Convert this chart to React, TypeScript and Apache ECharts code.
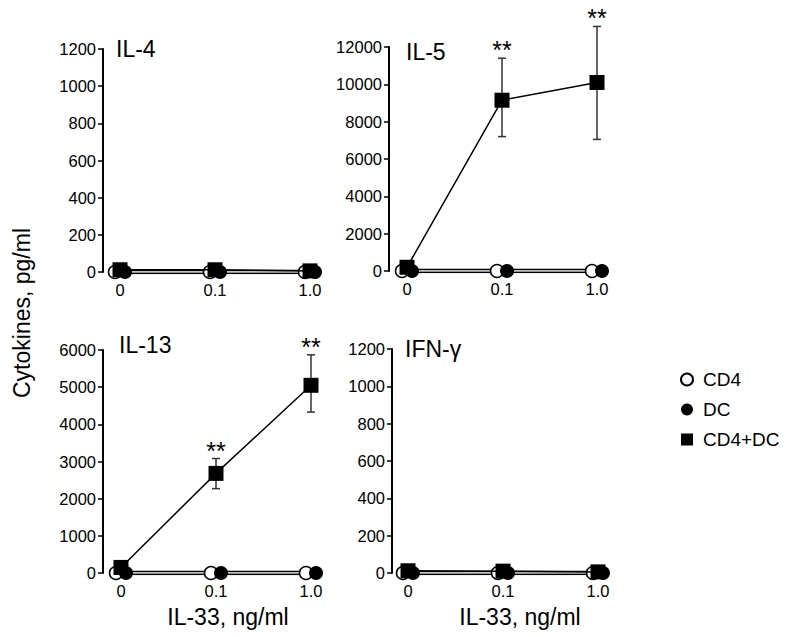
import React, { useEffect, useRef } from 'react';
import * as echarts from 'echarts';

// ---- data ----
const doseLabels = ['0', '0.1', '1.0'];
const panelNames = ['IL-4', 'IL-5', 'IL-13', 'IFN-γ'];
const yMaxes = [1200, 12000, 6000, 1200];
const yIntervals = [200, 2000, 1000, 200];

const cd4Values = [
  [0, 0, 0],
  [0, 0, 0],
  [0, 0, 0],
  [0, 0, 0],
];
const dcValues = [
  [0, 0, 0],
  [0, 0, 0],
  [0, 0, 0],
  [0, 0, 0],
];
const cd4dcValues = [
  [12, 12, 6],
  [200, 9150, 10100],
  [150, 2680, 5050],
  [12, 10, 6],
];
const errLow: (number | null)[][] = [
  [null, null, null],
  [null, 7200, 7050],
  [null, 2270, 4330],
  [null, null, null],
];
const errHigh: (number | null)[][] = [
  [null, null, null],
  [null, 11400, 13100],
  [null, 3080, 5870],
  [null, null, null],
];
const sigMarks = [
  ['', '', ''],
  ['', '**', '**'],
  ['', '**', '**'],
  ['', '', ''],
];
const legendNames = ['CD4', 'DC', 'CD4+DC'];
const yTitle = 'Cytokines, pg/ml';
const xTitle = 'IL-33, ng/ml';

// ---- layout ----
const FONT = 'Liberation Sans, Arial, Helvetica, sans-serif';
const gridLefts = [120, 407, 121, 408];
const gridTops = [49, 47, 350, 349];
const gridHeights = [223, 224, 223, 224];
const gridWidth = 190;
const yOffsets = [17, 18, 18, 16];
const titlePos = [
  [116, 49],
  [406, 52],
  [119, 345],
  [405, 349],
];

export default function App() {
  const ref = useRef<HTMLDivElement>(null);

  useEffect(() => {
    if (!ref.current) return;
    const chart = echarts.init(ref.current, undefined, { renderer: 'svg' });

    const grid: any[] = [];
    const xAxis: any[] = [];
    const yAxis: any[] = [];
    const series: any[] = [];
    const graphic: any[] = [];

    panelNames.forEach((name, i) => {
      grid.push({
        left: gridLefts[i],
        top: gridTops[i],
        width: gridWidth,
        height: gridHeights[i],
        containLabel: false,
      });
      xAxis.push({
        type: 'category',
        gridIndex: i,
        data: doseLabels,
        boundaryGap: false,
        axisLine: { show: false },
        axisTick: { show: false },
        axisLabel: { fontSize: 16.5, color: '#000', margin: 9, fontFamily: FONT },
        splitLine: { show: false },
      });
      yAxis.push({
        type: 'value',
        gridIndex: i,
        min: 0,
        max: yMaxes[i],
        interval: yIntervals[i],
        offset: yOffsets[i],
        axisLine: { show: true, lineStyle: { color: '#000', width: 2 } },
        axisTick: { show: true, length: 5, lineStyle: { color: '#000', width: 1.5 } },
        axisLabel: {
          fontSize: 16.5,
          color: '#000',
          margin: 7,
          fontFamily: FONT,
          formatter: (v: number) => String(v),
        },
        splitLine: { show: false },
      });

      // baseline double line (CD4 & DC connecting lines)
      series.push({
        name: 'CD4 line',
        type: 'line',
        xAxisIndex: i,
        yAxisIndex: i,
        data: cd4Values[i],
        symbol: 'none',
        lineStyle: { color: '#000', width: 4.5 },
        z: 1,
        silent: true,
      });
      series.push({
        name: 'DC line',
        type: 'line',
        xAxisIndex: i,
        yAxisIndex: i,
        data: dcValues[i],
        symbol: 'none',
        lineStyle: { color: '#fff', width: 1.5 },
        z: 2,
        silent: true,
      });
      series.push({
        name: 'CD4',
        type: 'scatter',
        xAxisIndex: i,
        yAxisIndex: i,
        data: cd4Values[i],
        symbol: 'circle',
        symbolSize: 13,
        symbolOffset: [-5, 0],
        itemStyle: { color: '#fff', borderColor: '#000', borderWidth: 1.5, opacity: 1 },
        z: 3,
      });
      series.push({
        name: 'DC',
        type: 'scatter',
        xAxisIndex: i,
        yAxisIndex: i,
        data: dcValues[i],
        symbol: 'circle',
        symbolSize: 14,
        symbolOffset: [5, 0],
        itemStyle: { color: '#000', opacity: 1 },
        z: 4,
      });

      const errData: any[] = [];
      const errSig: string[] = [];
      doseLabels.forEach((_, k) => {
        const lo = errLow[i][k];
        const hi = errHigh[i][k];
        if (lo != null && hi != null) {
          errData.push([k, lo, hi]);
          errSig.push(sigMarks[i][k]);
        }
      });
      series.push({
        name: 'err',
        type: 'custom',
        xAxisIndex: i,
        yAxisIndex: i,
        data: errData,
        z: 4,
        clip: false,
        silent: true,
        renderItem: (params: any, api: any) => {
          const x = api.value(0);
          const lo = api.coord([x, api.value(1)]);
          const hi = api.coord([x, api.value(2)]);
          const cx = lo[0];
          const cap = 4;
          const st = { stroke: '#333', lineWidth: 1.5 };
          return {
            type: 'group',
            children: [
              { type: 'line', shape: { x1: cx, y1: lo[1], x2: cx, y2: hi[1] }, style: st },
              { type: 'line', shape: { x1: cx - cap, y1: hi[1], x2: cx + cap, y2: hi[1] }, style: st },
              { type: 'line', shape: { x1: cx - cap, y1: lo[1], x2: cx + cap, y2: lo[1] }, style: st },
              {
                type: 'text',
                style: {
                  text: errSig[params.dataIndex],
                  x: cx,
                  y: hi[1] - 8,
                  align: 'center',
                  verticalAlign: 'middle',
                  fontSize: 25,
                  fontFamily: FONT,
                  fill: '#000',
                },
              },
            ],
          };
        },
      });

      series.push({
        name: 'CD4+DC',
        type: 'line',
        xAxisIndex: i,
        yAxisIndex: i,
        data: cd4dcValues[i],
        symbol: 'rect',
        symbolSize: 15,
        itemStyle: { color: '#000' },
        lineStyle: { color: '#000', width: 1.5 },
        z: 5,
      });

      graphic.push({
        type: 'text',
        left: titlePos[i][0],
        top: titlePos[i][1] - 12,
        style: { text: name, fontSize: 23, fontFamily: FONT, fill: '#000' },
      });
    });

    graphic.push({
      type: 'text',
      x: 22,
      y: 313,
      rotation: Math.PI / 2,
      style: {
        text: yTitle,
        fontSize: 23,
        fontFamily: FONT,
        fill: '#000',
        align: 'center',
        verticalAlign: 'middle',
      },
    });
    [228, 520].forEach((cx) => {
      graphic.push({
        type: 'text',
        x: cx,
        y: 617,
        style: {
          text: xTitle,
          fontSize: 23,
          fontFamily: FONT,
          fill: '#000',
          align: 'center',
          verticalAlign: 'middle',
        },
      });
    });

    chart.setOption({
      animation: false,
      backgroundColor: '#fff',
      grid,
      xAxis,
      yAxis,
      series,
      graphic,
      legend: {
        orient: 'vertical',
        left: 675,
        top: 365,
        itemWidth: 22,
        itemHeight: 12,
        itemGap: 11,
        selectedMode: false,
        textStyle: { fontSize: 19, color: '#000', fontFamily: FONT },
        data: [
          { name: legendNames[0], icon: 'circle' },
          { name: legendNames[1], icon: 'circle' },
          { name: legendNames[2], icon: 'path://M0,0h10v10h-10z' },
        ],
      },
    });

    return () => chart.dispose();
  }, []);

  return (
    <div
      ref={ref}
      style={{ position: 'absolute', left: 0, top: 0, width: 791, height: 637 }}
    />
  );
}
